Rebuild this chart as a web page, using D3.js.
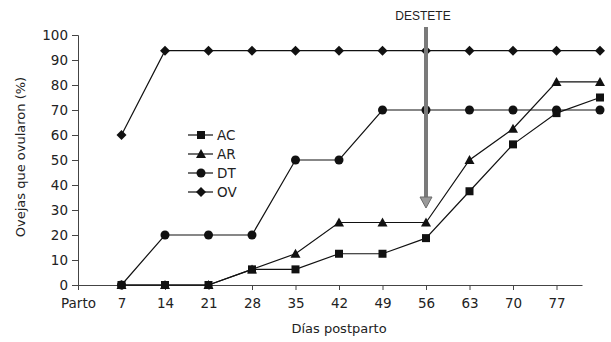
<!DOCTYPE html>
<html><head><meta charset="utf-8">
<script src="https://cdn.jsdelivr.net/npm/d3@7"></script>
<style>body{margin:0;background:#fff}svg{display:block}</style>
</head><body><svg id="c" width="611" height="342"></svg>
<script>
const days = [7,14,21,28,35,42,49,56,63,70,77,84];
const tickDays = [0,7,14,21,28,35,42,49,56,63,70,77];
const tickLabels = ["Parto","7","14","21","28","35","42","49","56","63","70","77"];
const yTicks = [0,10,20,30,40,50,60,70,80,90,100];
const OV = [60,93.75,93.75,93.75,93.75,93.75,93.75,93.75,93.75,93.75,93.75,93.75];
const DT = [0,20,20,20,50,50,70,70,70,70,70,70];
const AR = [0,0,0,6.25,12.5,25,25,25,50,62.5,81.25,81.25];
const AC = [0,0,0,6.25,6.25,12.5,12.5,18.75,37.5,56.25,68.75,75];
const seriesNames = ["AC","AR","DT","OV"];
const weaningDay = 56;

const svg = d3.select("#c");
const x = d3.scaleLinear().domain([0,84]).range([78,600]);
const y = d3.scaleLinear().domain([0,100]).range([285,35]);
const font = "DejaVu Sans, Verdana, sans-serif";
const axisColor = "#444";

// Y axis
const ya = svg.append("g").attr("transform","translate(78,0)")
  .call(d3.axisLeft(y).tickValues(yTicks).tickSize(6).tickPadding(4));
ya.select(".domain").attr("stroke",axisColor);
ya.selectAll(".tick line").attr("stroke",axisColor);
ya.selectAll("text").attr("font-family",font).attr("font-size",13.5).attr("fill","#222");

// X axis
const xa = svg.append("g").attr("transform","translate(0,285)")
  .call(d3.axisBottom(x).tickValues(tickDays).tickFormat((d,i)=>tickLabels[i]).tickSize(5).tickPadding(8));
xa.select(".domain").remove();
xa.append("line").attr("x1",x(0)).attr("x2",x(77)+26).attr("y1",0.5).attr("y2",0.5).attr("stroke",axisColor);
xa.selectAll(".tick line").attr("stroke",axisColor);
xa.selectAll("text").attr("font-family",font).attr("font-size",13.5).attr("fill","#222");

// axis titles
svg.append("text").attr("x",x(42)).attr("y",333).attr("text-anchor","middle")
  .attr("font-family",font).attr("font-size",13).attr("fill","#222").text("Días postparto");
svg.append("text").attr("transform","translate(25,157) rotate(-90)").attr("text-anchor","middle")
  .attr("font-family",font).attr("font-size",13).attr("fill","#222").text("Ovejas que ovularon (%)");

// markers
function marker(g, type, cx, cy){
  if(type==="AC") g.append("rect").attr("x",cx-4).attr("y",cy-4).attr("width",8).attr("height",8).attr("fill","#111");
  else if(type==="AR") g.append("path").attr("d",`M${cx},${cy-5}L${cx+5},${cy+4}L${cx-5},${cy+4}Z`).attr("fill","#111");
  else if(type==="DT") g.append("circle").attr("cx",cx).attr("cy",cy).attr("r",4.5).attr("fill","#111");
  else g.append("path").attr("d",`M${cx},${cy-5}L${cx+5},${cy}L${cx},${cy+5}L${cx-5},${cy}Z`).attr("fill","#111");
}

const data = {AC, AR, DT, OV};
const line = d3.line().x((d,i)=>x(days[i])).y(d=>y(d));
["OV","DT","AR","AC"].forEach(name=>{
  const g = svg.append("g");
  g.append("path").attr("d",line(data[name])).attr("fill","none").attr("stroke","#111").attr("stroke-width",1.2);
  data[name].forEach((v,i)=>marker(g,name,x(days[i]),y(v)));
});

// legend
const lg = svg.append("g");
seriesNames.forEach((n,i)=>{
  const ly = 135 + i*19;
  lg.append("line").attr("x1",188).attr("x2",213).attr("y1",ly).attr("y2",ly).attr("stroke","#111").attr("stroke-width",1.2);
  marker(lg,n,201,ly);
  lg.append("text").attr("x",217).attr("y",ly+5).attr("font-family",font).attr("font-size",13.5).attr("fill","#222").text(n);
});

// weaning arrow
const ax = x(weaningDay);
const ag = svg.append("g");
ag.append("line").attr("x1",ax).attr("x2",ax).attr("y1",27).attr("y2",198).attr("stroke","#7a7a7a").attr("stroke-width",4);
ag.append("path").attr("d",`M${ax-6},197L${ax+6},197L${ax},208Z`).attr("fill","#9a9a9a").attr("stroke","#6a6a6a").attr("stroke-width",1);
svg.append("text").attr("x",ax-3).attr("y",20).attr("text-anchor","middle")
  .attr("font-family","Liberation Sans, Arial, sans-serif").attr("font-size",12).attr("fill","#222").text("DESTETE");
</script></body></html>
